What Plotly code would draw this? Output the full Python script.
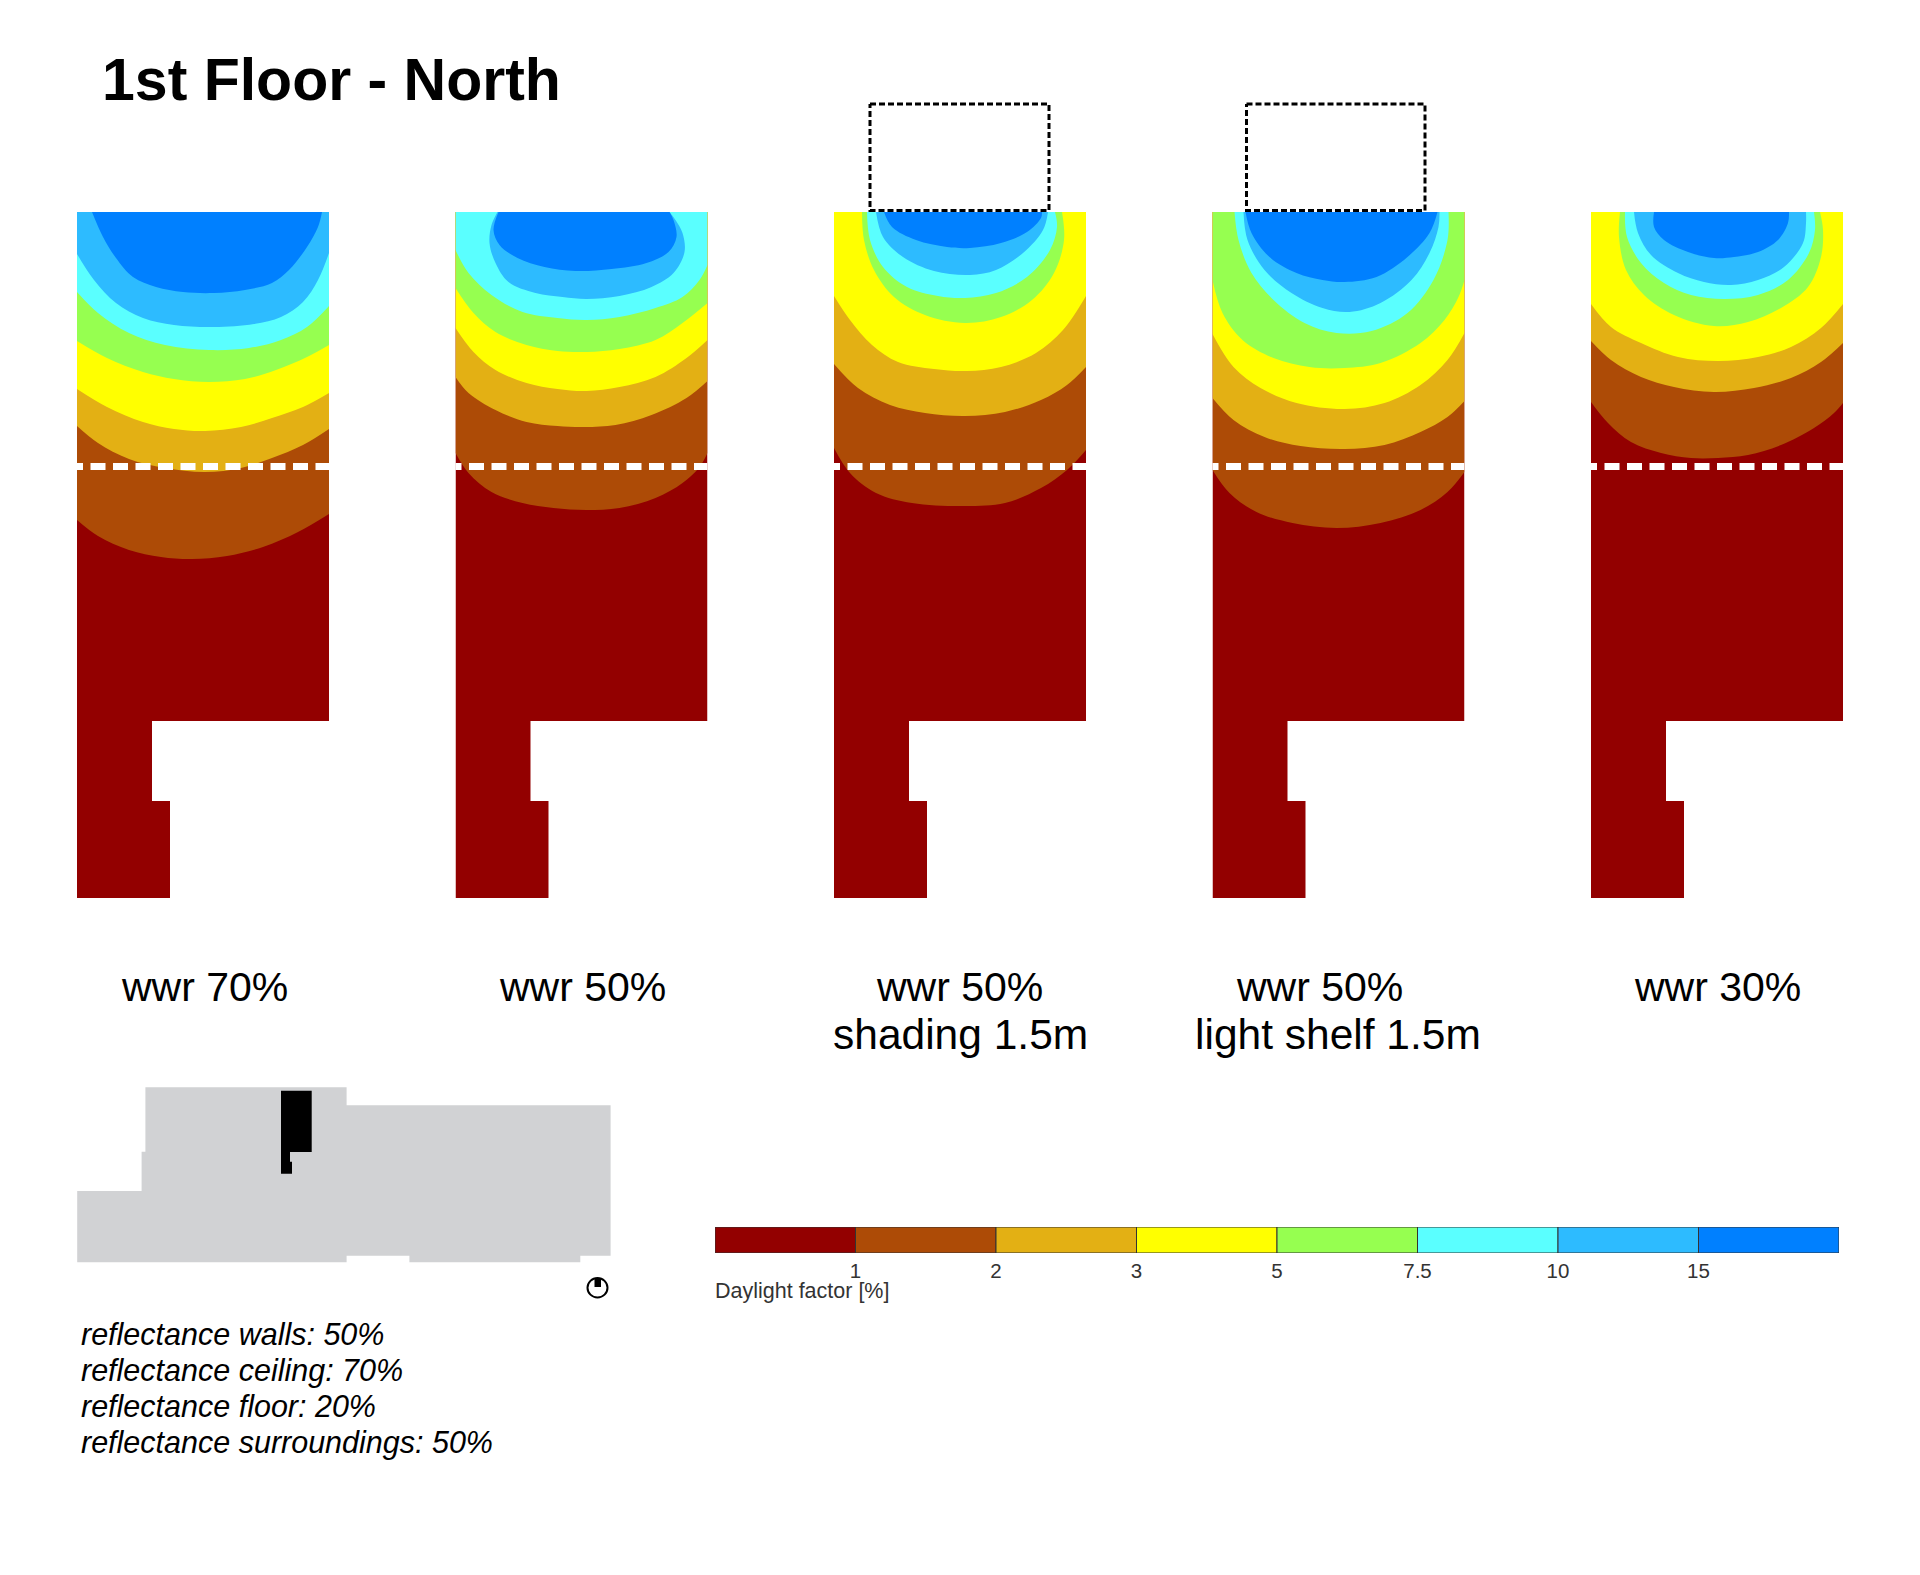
import plotly.graph_objects as go

PAGE_W, PAGE_H = 1920, 1575
ORIGIN = 8  # the browser's default page margin
PANEL_LEFT = [77, 455.5, 834, 1212.5, 1591]
PANEL_W = 252
PANEL_TOP = 212
PANEL_H = 686
ABOVE = 110

LEVELS = ["1", "2", "3", "5", "7.5", "10", "15"]
COLORS = ["#930000", "#AD4B06", "#E3B014", "#FFFF00", "#96FF50", "#5AFFFF", "#2DBBFF", "#0080FF"]

ROOM_X = [0, 252, 252, 75, 75, 93, 93, 0, 0]
ROOM_Y = [0, 0, 509, 509, 589, 589, 686, 686, 0]
WORK_LINE_X = [-9, 252]
WORK_LINE_Y = [254.5, 254.5]

# Contours: (across the room, depth from the window wall)
P1_1 = [(0,308),(21,324),(52,338),(84,345),(115,347),(150,344),(186,335),(221,320),(252,302)]
P1_2 = [(0,214),(21,231),(52,247),(88,256),(128,260),(164,256),(195,246),(226,233),(252,217)]
P1_3 = [(0,177),(30,195),(66,210),(97,217),(128,219),(164,215),(195,206),(226,195),(252,181)]
P1_5 = [(0,129),(30,146),(66,160),(97,167),(132,170),(168,167),(199,158),(230,145),(252,133)]
P1_7 = [(0,80),(21,101),(52,121),(88,133),(132,138),(172,136),(204,128),(230,115),(252,94)]
P1_10 = [(0,42),(17,68),(39,91),(66,106),(97,113),(137,115),(177,112),(204,105),(226,90),(241,68),(252,41)]
P1_15 = [(15,0),(26,25),(39,46),(56,65),(79,75),(106,80),(137,81),(168,78),(195,71),(212,58),(230,35),(241,15),(245,0)]

P2_1 = [(0,241),(13,261),(36,280),(67,291),(98,296),(131,298),(164,296),(200,286),(227,271),(244,255),(252,241)]
P2_2 = [(0,165),(13,181),(40,198),(71,210),(102,214),(129,215),(160,213),(196,203),(231,186),(252,169)]
P2_3 = [(0,116),(18,140),(40,158),(71,171),(102,177),(131,179),(164,175),(200,165),(231,146),(252,128)]
P2_5 = [(0,76),(18,101),(40,120),(71,133),(102,139),(131,140),(164,137),(200,128),(227,111),(252,91)]
P2_7 = [(0,38),(13,61),(36,83),(67,100),(102,106),(131,108),(164,105),(200,96),(227,85),(244,68),(252,53)]
P2_10 = [(42,0),(36,13),(34,31),(40,51),(53,70),(80,81),(107,85),(131,87),(164,84),(196,75),(218,61),(229,40),(227,21),(220,8),(214,0)]
P2_15 = [(43,0),(38,18),(44,33),(62,46),(89,55),(120,59),(156,57),(191,51),(213,40),(221,25),(218,8),(214,0)]

P3_1 = [(0,236),(16,261),(42,281),(78,291),(131,294),(171,291),(207,276),(233,258),(252,238)]
P3_2 = [(0,152),(24,176),(56,193),(91,201),(131,204),(171,200),(207,188),(233,173),(252,155)]
P3_3 = [(0,84),(16,108),(38,133),(64,150),(100,157),(133,159),(167,155),(202,141),(229,118),(252,84)]
P3_5 = [(28,0),(30,28),(40,58),(60,85),(91,103),(131,111),(167,105),(198,88),(220,61),(230,28),(228,0)]
P3_7 = [(33,0),(36,28),(49,55),(73,75),(104,84),(131,86),(162,81),(193,65),(216,38),(223,15),(221,0)]
P3_10 = [(42,0),(49,25),(69,45),(100,59),(136,63),(162,58),(189,41),(209,18),(214,0)]
P3_15 = [(50,0),(58,15),(82,28),(113,35),(136,36),(167,31),(193,20),(207,6),(208,0)]

P4_1 = [(0,258),(17,281),(44,300),(80,311),(124,316),(168,311),(208,298),(235,280),(252,260)]
P4_2 = [(0,186),(21,208),(52,225),(88,234),(132,237),(172,233),(208,220),(235,205),(252,189)]
P4_3 = [(0,122),(21,155),(48,176),(84,191),(132,197),(172,191),(208,173),(235,148),(252,121)]
P4_5 = [(0,68),(10,101),(30,128),(61,146),(97,155),(132,156),(168,151),(208,131),(232,108),(246,85),(252,68)]
P4_7 = [(22,0),(26,28),(39,61),(61,88),(92,111),(124,121),(159,119),(195,101),(221,68),(235,28),(236,0)]
P4_10 = [(31,0),(35,28),(52,58),(79,81),(110,96),(137,100),(168,91),(199,68),(217,41),(226,15),(227,0)]
P4_15 = [(33,0),(39,21),(57,45),(84,61),(110,68),(132,70),(164,65),(195,45),(217,21),(225,0)]

P5_1 = [(0,190),(17,211),(40,230),(70,241),(100,246),(127,246),(157,243),(190,233),(223,216),(243,201),(252,191)]
P5_2 = [(0,129),(20,148),(50,165),(83,175),(123,180),(163,176),(200,166),(230,150),(252,131)]
P5_3 = [(0,92),(20,115),(50,131),(87,145),(127,149),(167,145),(200,135),(230,116),(252,92)]
P5_5 = [(29,0),(28,25),(35,58),(53,83),(83,103),(123,114),(157,110),(190,96),(217,75),(230,45),(232,18),(229,0)]
P5_7 = [(34,0),(36,25),(50,51),(73,71),(100,83),(133,87),(167,83),(197,68),(218,41),(224,18),(223,0)]
P5_10 = [(43,0),(47,21),(60,43),(87,61),(113,70),(140,73),(167,68),(193,55),(212,31),(215,11),(215,0)]
P5_15 = [(63,0),(63,15),(73,28),(97,40),(123,46),(143,45),(167,40),(187,28),(197,11),(198,0)]

PANEL_CONTOURS = [
    [P1_1, P1_2, P1_3, P1_5, P1_7, P1_10, P1_15],
    [P2_1, P2_2, P2_3, P2_5, P2_7, P2_10, P2_15],
    [P3_1, P3_2, P3_3, P3_5, P3_7, P3_10, P3_15],
    [P4_1, P4_2, P4_3, P4_5, P4_7, P4_10, P4_15],
    [P5_1, P5_2, P5_3, P5_5, P5_7, P5_10, P5_15],
]

SHADING_BOX_X = [36, 215, 215, 36, 36]
SHELF_BOX_X = [34, 212.5, 212.5, 34, 34]
BOX_Y = [-108, -108, -1.5, -1.5, -108]

# Key plan on the page
PLAN_X = [77.2,141.6,141.6,145.4,145.4,346.6,346.6,610.6,610.6,580.3,580.3,409.4,409.4,346.6,346.6,77.2,77.2]
PLAN_Y = [1191,1191,1151.7,1151.7,1087.3,1087.3,1105.3,1105.3,1255.7,1255.7,1262.3,1262.3,1255.7,1255.7,1262.3,1262.3,1191]
ROOM_PLAN_X = [281,311.7,311.7,290,290,292,292,281,281]
ROOM_PLAN_Y = [1090.7,1090.7,1152,1152,1161.7,1161.7,1173.7,1173.7,1090.7]

LABELS = [
    ("wwr 70%", 204, 987, 41), ("wwr 50%", 582, 987, 41), ("wwr 50%", 959.5, 987, 41),
    ("shading 1.5m", 960.5, 1034.5, 42.5), ("wwr 50%", 1319, 987, 41),
    ("light shelf 1.5m", 1338, 1034.5, 42.5), ("wwr 30%", 1717.5, 987, 41),
]
NOTES = ["reflectance walls: 50%", "reflectance ceiling: 70%",
         "reflectance floor: 20%", "reflectance surroundings: 50%"]
NOTE_Y = [1333.5, 1370, 1406, 1442]

BAR_POSITIONS = [0.5, 1.5, 2.5, 3.5, 4.5, 5.5, 6.5, 7.5]
BAR_SPAN = [1, 1, 1, 1, 1, 1, 1, 1]
BAR_TICKS = [1, 2, 3, 4, 5, 6, 7]

SANS = "Liberation Sans, Arial, sans-serif"

W, H = PAGE_W - ORIGIN, PAGE_H - ORIGIN
def fx(px):
    return (px - ORIGIN) / W
def fy(px):
    return 1 - (px - ORIGIN) / H

fig = go.Figure()
layout = dict(
    width=W, height=H, margin=dict(l=0, r=0, t=0, b=0, pad=0),
    paper_bgcolor="white", plot_bgcolor="rgba(0,0,0,0)", showlegend=False,
    autosize=False,
)
hidden = dict(visible=False, fixedrange=True)

# Page axes
layout["xaxis"] = dict(hidden, domain=[0, 1], range=[ORIGIN, PAGE_W], anchor="y")
layout["yaxis"] = dict(hidden, domain=[0, 1], range=[PAGE_H, ORIGIN], anchor="x")

fig.add_trace(go.Scatter(x=PLAN_X, y=PLAN_Y, fill="toself", mode="lines", line=dict(width=0),
                         fillcolor="#D1D2D4", xaxis="x", yaxis="y", hoverinfo="skip"))
fig.add_trace(go.Scatter(x=ROOM_PLAN_X, y=ROOM_PLAN_Y, fill="toself", mode="lines", line=dict(width=0),
                         fillcolor="#000000", xaxis="x", yaxis="y", hoverinfo="skip"))

# Floor panels
for i, (left, contours) in enumerate(zip(PANEL_LEFT, PANEL_CONTOURS)):
    n = i + 2
    top_px = PANEL_TOP - ABOVE
    bottom_px = PANEL_TOP + PANEL_H
    layout[f"xaxis{n}"] = dict(hidden, domain=[fx(left), fx(left + PANEL_W)],
                               range=[0, PANEL_W], anchor=f"y{n}")
    layout[f"yaxis{n}"] = dict(hidden, domain=[fy(bottom_px), fy(top_px)],
                               range=[PANEL_H, -ABOVE], anchor=f"x{n}")
    xa, ya = f"x{n}", f"y{n}"
    fig.add_trace(go.Scatter(x=ROOM_X, y=ROOM_Y, fill="toself", mode="lines", line=dict(width=0),
                             fillcolor=COLORS[0], xaxis=xa, yaxis=ya, hoverinfo="skip"))
    for level, curve, color in zip(LEVELS, contours, COLORS[1:]):
        fig.add_trace(go.Scatter(
            x=[p[0] for p in curve], y=[p[1] for p in curve], name=level,
            mode="lines", line=dict(width=0, shape="spline", smoothing=1.0),
            fill="tozeroy", fillcolor=color, xaxis=xa, yaxis=ya, hoverinfo="skip"))
    fig.add_trace(go.Scatter(x=WORK_LINE_X, y=WORK_LINE_Y, mode="lines",
                             line=dict(color="white", width=7, dash="15px,7.5px"),
                             xaxis=xa, yaxis=ya, hoverinfo="skip"))
    if i in (2, 3):
        fig.add_trace(go.Scatter(x=SHADING_BOX_X if i == 2 else SHELF_BOX_X, y=BOX_Y, mode="lines",
                                 line=dict(color="black", width=3, dash="6px,3px"),
                                 xaxis=xa, yaxis=ya, hoverinfo="skip"))

# Colour scale
BAR_L, BAR_R, BAR_T, BAR_B = 715, 1839, 1227, 1253
layout["xaxis7"] = dict(domain=[fx(BAR_L), fx(BAR_R)], range=[0, 8], anchor="y7",
                        tickmode="array", tickvals=BAR_TICKS, ticktext=LEVELS, showline=False,
                        showgrid=False, zeroline=False, ticks="", fixedrange=True,
                        tickfont=dict(family=SANS, size=20.5, color="#333333"), ticklabelstandoff=3)
layout["yaxis7"] = dict(hidden, domain=[fy(BAR_B), fy(BAR_T)], range=[0, 1], anchor="x7")
fig.add_trace(go.Bar(x=BAR_POSITIONS, y=[1] * 8, width=BAR_SPAN, marker=dict(color=COLORS, line=dict(color="#333333", width=1)),
                     xaxis="x7", yaxis="y7", hoverinfo="skip"))

# Text
anns = [dict(text="1st Floor - North", x=100, y=80, xref="x", yref="y", xanchor="left", yanchor="middle",
             showarrow=False, font=dict(family=SANS, size=59, color="black", weight="bold"))]
for text, x, y, size in LABELS:
    anns.append(dict(text=text, x=x, y=y, xref="x", yref="y", xanchor="center", yanchor="middle",
                     showarrow=False, font=dict(family=SANS, size=size, color="black")))
for text, y in zip(NOTES, NOTE_Y):
    anns.append(dict(text=f"<i>{text}</i>", x=79, y=y, xref="x", yref="y", xanchor="left", yanchor="middle",
                     showarrow=False, font=dict(family=SANS, size=30.5, color="black")))
anns.append(dict(text="Daylight factor [%]", x=713, y=1291, xref="x", yref="y", xanchor="left", yanchor="middle",
                 showarrow=False, font=dict(family=SANS, size=21.5, color="#333333")))
layout["annotations"] = anns

# Compass
layout["shapes"] = [
    dict(type="circle", xref="x", yref="y", x0=587.5, x1=607.5, y0=1278, y1=1297.5,
         line=dict(color="black", width=2), fillcolor="white"),
    dict(type="rect", xref="x", yref="y", x0=594.5, x1=601, y0=1278.5, y1=1287,
         line=dict(width=0), fillcolor="black"),
]
fig.update_layout(**layout)
fig.write_html("out.html")
